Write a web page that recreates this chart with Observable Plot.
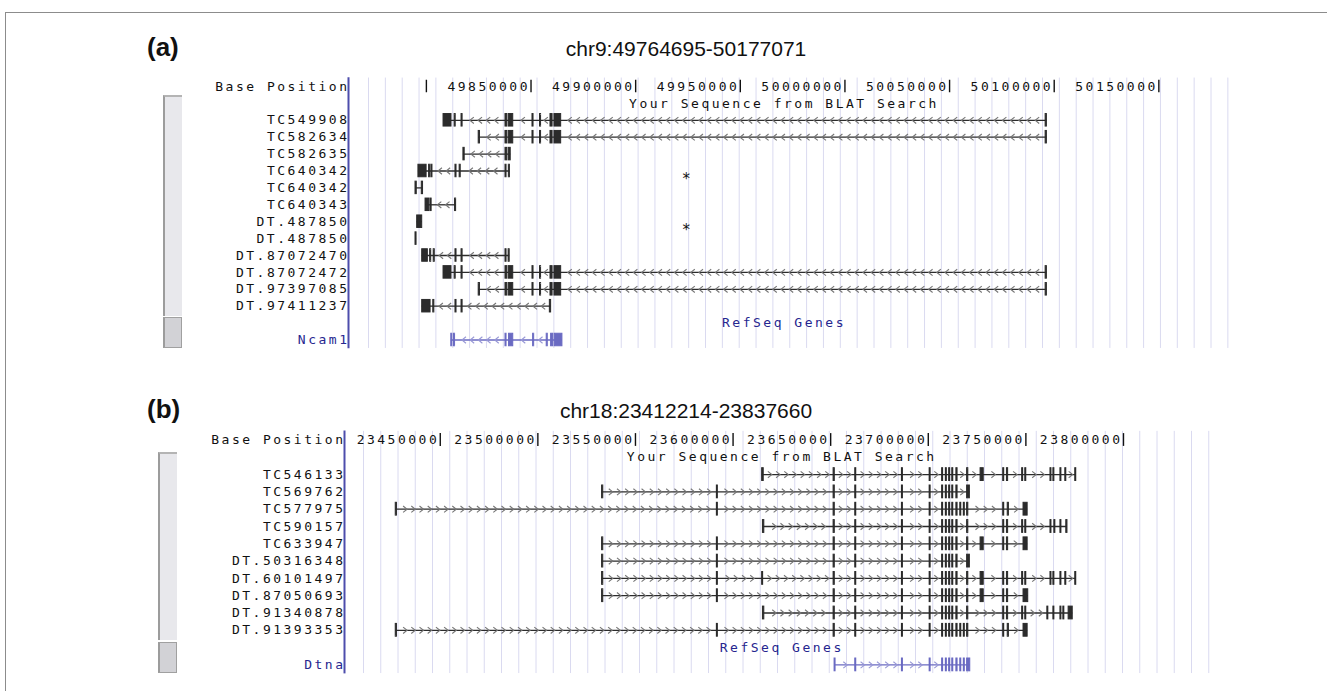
<!DOCTYPE html>
<html><head><meta charset="utf-8">
<script src="https://cdn.jsdelivr.net/npm/d3@7"></script>
<script src="https://cdn.jsdelivr.net/npm/@observablehq/plot@0.6"></script>
<style>
body{margin:0;background:#fff;}
#page{position:relative;width:1327px;height:691px;overflow:hidden;background:#fff;font-family:"Liberation Sans",Arial,sans-serif;}
.frame{position:absolute;left:5px;top:12px;width:1340px;height:700px;border:1px solid #8c8c8c;}
.plabel{position:absolute;font-weight:bold;font-size:26px;line-height:1;color:#111;}
.ptitle{position:absolute;font-size:21px;line-height:1;color:#111;transform:translateX(-50%);white-space:nowrap;}
.bar{position:absolute;background:#e8e8ec;border-left:2px solid #9c9c9c;border-top:2px solid #b4b4b4;box-sizing:border-box;}
.knob{position:absolute;background:#d2d2d6;border:1px solid #a0a0a0;border-left:2px solid #9c9c9c;box-sizing:border-box;}
.panel{position:absolute;left:0;}
.panel svg text{letter-spacing:2.5px;}
</style></head>
<body><div id="page">
<div class="frame"></div>
<div class="plabel" style="left:147px;top:34px;">(a)</div>
<div class="ptitle" id="titleA" style="left:686px;top:38px;"></div>
<div class="bar" style="left:163px;top:95px;width:19px;height:221px;"></div>
<div class="knob" style="left:163px;top:317px;width:19px;height:31px;"></div>
<div class="panel" id="panelA"></div>
<div class="plabel" style="left:147px;top:396px;">(b)</div>
<div class="ptitle" id="titleB" style="left:686px;top:400px;"></div>
<div class="bar" style="left:158px;top:452px;width:19px;height:188px;"></div>
<div class="knob" style="left:158px;top:642px;width:19px;height:31px;"></div>
<div class="panel" id="panelB"></div>
</div>
<script>
// ---------------- Panel (a) data ----------------
const regionA = "chr9:49764695-50177071";
const domainA = [49764695, 50177071];
const tickPosA = [49800000, 49850000, 49900000, 49950000, 50000000, 50050000, 50100000, 50150000];
const tickLabelA = ["", "49850000", "49900000", "49950000", "50000000", "50050000", "50100000", "50150000"];
const tracksA = ["TC549908", "TC582634", "TC582635", "TC640342", "TC640342", "TC640343",
  "DT.487850", "DT.487850", "DT.87072470", "DT.87072472", "DT.97397085", "DT.97411237"];
const exonsA = [
  [[49808200,49812000],[49813500,49814000],[49816800,49817300],[49837800,49838600],[49839300,49841500],[49850700,49851200],[49854300,49854800],[49859300,49860300],[49861200,49864400],[50095900,50096500]],
  [[49825000,49825600],[49837800,49838600],[49839300,49841500],[49850700,49851200],[49854300,49854800],[49859300,49860300],[49861200,49864400],[50095900,50096500]],
  [[49817700,49818300],[49837800,49838600],[49839300,49840300]],
  [[49796200,49800100],[49801300,49801800],[49802400,49802900],[49813900,49814400],[49815900,49816400],[49837800,49838300],[49839400,49839900]],
  [[49794800,49795400],[49797800,49798400]],
  [[49799600,49801300],[49801900,49802500],[49813700,49814200]],
  [[49795600,49798000]],
  [[49794800,49795300]],
  [[49798000,49800700],[49801800,49802300],[49803500,49804000],[49813900,49814400],[49816800,49817300],[49837800,49838300],[49839300,49839800]],
  [[49808200,49812000],[49813500,49814000],[49816800,49817300],[49837800,49838600],[49839300,49841500],[49850700,49851200],[49854300,49854800],[49859300,49860300],[49861200,49864400],[50095900,50096500]],
  [[49825000,49825600],[49837800,49838600],[49839300,49841500],[49850700,49851200],[49854300,49854800],[49859300,49860300],[49861200,49864400],[50095900,50096500]],
  [[49798000,49802000],[49803300,49803800],[49813900,49814400],[49816800,49817300],[49859000,49859600]]
];
const geneA = "Ncam1";
const geneExonsA = [[49811900,49812400],[49813200,49813700],[49837800,49838300],[49839500,49841500],[49851000,49851500],[49857500,49858000],[49859600,49860700],[49861400,49865000]];
const starPosA = [49924800, 49924800];
const starTrackA = [3.5, 6.5];   // between the two TC640342 rows and the two DT.487850 rows

// ---------------- Panel (b) data ----------------
const regionB = "chr18:23412214-23837660";
const domainB = [23412214, 23837660];
const tickPosB = [23450000, 23500000, 23550000, 23600000, 23650000, 23700000, 23750000, 23800000];
const tickLabelB = ["23450000", "23500000", "23550000", "23600000", "23650000", "23700000", "23750000", "23800000"];
const tracksB = ["TC546133", "TC569762", "TC577975", "TC590157", "TC633947",
  "DT.50316348", "DT.60101497", "DT.87050693", "DT.91340878", "DT.91393353"];
const exonsB = [
  [[23614900,23615700],[23651500,23652100],[23662600,23663100],[23686500,23687000],[23700700,23701200],[23707100,23707600],[23709000,23709500],[23710700,23711200],[23712300,23712800],[23714400,23715000],[23719900,23720500],[23726800,23728400],[23738400,23738900],[23740300,23740900],[23748100,23748600],[23749700,23750200],[23762600,23763100],[23764100,23764600],[23767700,23768200],[23770200,23770700],[23775300,23775800]],
  [[23532900,23533500],[23591700,23592200],[23651500,23652100],[23662600,23663100],[23686500,23687000],[23700700,23701200],[23707100,23707600],[23709000,23709500],[23710700,23711200],[23712300,23712800],[23714400,23715000],[23719900,23721300]],
  [[23427200,23427800],[23591700,23592200],[23651500,23652100],[23662600,23663100],[23686500,23687000],[23700700,23701200],[23707100,23707600],[23709000,23709500],[23710700,23711200],[23712300,23712800],[23714400,23715000],[23716400,23716900],[23718200,23718700],[23719900,23720500],[23738400,23738900],[23740700,23741300],[23748800,23750900]],
  [[23615300,23616000],[23651500,23652100],[23662600,23663100],[23686500,23687000],[23700700,23701200],[23707100,23707600],[23709000,23709500],[23710700,23711200],[23712300,23712800],[23714400,23715000],[23719900,23720500],[23738400,23738900],[23740300,23740900],[23748100,23748600],[23749700,23750200],[23762600,23763100],[23764600,23765100],[23767700,23768200],[23770700,23771300]],
  [[23532900,23533500],[23591700,23592200],[23651500,23652100],[23662600,23663100],[23686500,23687000],[23700700,23701200],[23707100,23707600],[23709000,23709500],[23710700,23711200],[23712300,23712800],[23714400,23715000],[23719900,23720500],[23726800,23728400],[23738400,23738900],[23740300,23740900],[23748800,23750900]],
  [[23532900,23533500],[23591700,23592200],[23651500,23652100],[23662600,23663100],[23686500,23687000],[23700700,23701200],[23707100,23707600],[23709000,23709500],[23710700,23711200],[23712300,23712800],[23714400,23715000],[23719900,23721300]],
  [[23532900,23533500],[23591700,23592200],[23614900,23615400],[23651500,23652100],[23662600,23663100],[23686500,23687000],[23700700,23701200],[23707100,23707600],[23709000,23709500],[23710700,23711200],[23712300,23712800],[23714400,23715000],[23719900,23720500],[23726800,23728400],[23738400,23738900],[23740300,23740900],[23748100,23748600],[23749700,23750200],[23762600,23763100],[23764100,23764600],[23767700,23768200],[23770200,23770700],[23775300,23775800]],
  [[23532900,23533500],[23591700,23592200],[23651500,23652100],[23662600,23663100],[23686500,23687000],[23700700,23701200],[23707100,23707600],[23709000,23709500],[23710700,23711200],[23712300,23712800],[23714400,23715000],[23719900,23720500],[23726800,23728400],[23738400,23738900],[23740300,23740900],[23748800,23751200]],
  [[23615300,23616000],[23651500,23652100],[23662600,23663100],[23686500,23687000],[23700700,23701200],[23707100,23707600],[23709000,23709500],[23710700,23711200],[23712300,23712800],[23714400,23715000],[23719900,23720500],[23738400,23738900],[23740300,23740900],[23748100,23748600],[23749700,23750200],[23761000,23761500],[23764100,23764600],[23767700,23768200],[23769200,23769700],[23771900,23774000]],
  [[23427200,23427800],[23591700,23592200],[23651500,23652100],[23662600,23663100],[23686500,23687000],[23700700,23701200],[23707100,23707600],[23709000,23709500],[23710700,23711200],[23712300,23712800],[23714400,23715000],[23716400,23716900],[23718200,23718700],[23719900,23720500],[23738400,23738900],[23740700,23741300],[23748800,23750900]]
];
const geneB = "Dtna";
const geneExonsB = [[23652000,23652500],[23662600,23663100],[23686500,23687000],[23700700,23701200],[23707100,23707600],[23709000,23709500],[23710700,23711200],[23712300,23712800],[23714400,23715000],[23716400,23716900],[23718200,23718700],[23719900,23721500]];
const starPosB = [];
const starTrackB = [];

// ---------------- drawing ----------------
const MONO = "'DejaVu Sans Mono', 'Liberation Mono', monospace";
const DARK = "#2b2b2b", CHEV = "#767676";
const BLUE = "#6a6ac2", BLUECHEV = "#9898d6", BLUETXT = "#26268f";
const chevL = {draw(ctx){ctx.moveTo(2.1,-3.2);ctx.lineTo(-1.9,0);ctx.lineTo(2.1,3.2);}};
const chevR = {draw(ctx){ctx.moveTo(-2.1,-3.2);ctx.lineTo(1.9,0);ctx.lineTo(-2.1,3.2);}};

function chevronsFor(exons, pxPerBp, step) {
  const out = [];
  for (let i = 0; i < exons.length - 1; i++) {
    const a = exons[i][1], b = exons[i + 1][0];
    const L = (b - a) * pxPerBp;
    if (L < 7) continue;
    const m = Math.max(1, Math.floor((L - 4) / step));
    const off = (L - (m - 1) * step) / 2;
    for (let k = 0; k < m; k++) out.push(a + (off + k * step) / pxPerBp);
  }
  return out;
}

function panel(cfg) {
  const n = cfg.tracks.length;
  const nRows = n + 4;
  const pxPerBp = (cfg.xRange[1] - cfg.xRange[0]) / (cfg.domain[1] - cfg.domain[0]);
  const toBp = px => cfg.domain[0] + (px - cfg.xRange[0]) / pxPerBp;
  const grid = d3.range(cfg.grid[0], cfg.grid[1] + 0.1, cfg.grid[2]).map(toBp);

  const labels = [{row: 0, text: "Base Position", fill: "#111"}]
    .concat(cfg.tracks.map((t, i) => ({row: i + 2, text: t, fill: "#111"})))
    .concat([{row: n + 3, text: cfg.gene, fill: BLUETXT}]);

  const items = cfg.exons.map((ex, i) => ({row: i + 2, exons: ex, color: DARK, chev: CHEV}))
    .concat([{row: n + 3, exons: cfg.geneExons, color: BLUE, chev: BLUECHEV}]);
  const introns = items.map(d => ({row: d.row, x1: d.exons[0][0], x2: d.exons[d.exons.length - 1][1], color: d.color}));
  const blocks = items.flatMap(d => d.exons.map(e => ({row: d.row, x1: e[0], x2: e[1], color: d.color})));
  const chevs = items.flatMap(d => chevronsFor(d.exons, pxPerBp, 8.2).map(x => ({row: d.row, x, color: d.chev})));
  const stars = cfg.starPos.map((p, i) => ({x: p, row: cfg.starTrack[i] + 2}));
  const center = (cfg.domain[0] + cfg.domain[1]) / 2;

  return Plot.plot({
    width: 1327, height: cfg.height, margin: 0,
    style: {background: "transparent", overflow: "visible"},
    x: {domain: cfg.domain, range: cfg.xRange, axis: null},
    y: {domain: [0, nRows - 1], range: [cfg.row0, cfg.row0 + (nRows - 1) * cfg.rowH], axis: null},
    marks: [
      Plot.ruleX(grid, {x: d => d, y1: -0.5, y2: nRows - 0.5, stroke: "#dadaf0", strokeWidth: 1}),
      Plot.ruleX([cfg.domain[0]], {x: d => d, dx: cfg.sepDx, y1: -0.52, y2: nRows - 0.48, stroke: "#4d4dac", strokeWidth: 2}),
      Plot.ruleX(cfg.tickPos, {x: d => d, y1: -0.37, y2: 0.37, stroke: "#111", strokeWidth: 1.4}),
      Plot.text(cfg.tickPos, {x: d => d, y: () => 0, text: (d, i) => cfg.tickLabel[i], textAnchor: "end", dx: -1, fontFamily: MONO, fontSize: 13, fill: "#111"}),
      Plot.text(labels, {x: () => cfg.domain[0], y: "row", text: "text", fill: "fill", textAnchor: "end", dx: cfg.labelDx, fontFamily: MONO, fontSize: 13}),
      Plot.text(["Your Sequence from BLAT Search"], {x: () => center, y: () => 1, text: d => d, fontFamily: MONO, fontSize: 13, fill: "#111"}),
      Plot.text(["RefSeq Genes"], {x: () => center, y: () => n + 2, text: d => d, fontFamily: MONO, fontSize: 13, fill: BLUETXT}),
      Plot.ruleY(introns, {x1: "x1", x2: "x2", y: "row", stroke: "color", strokeWidth: 1.3}),
      Plot.dot(chevs, {x: "x", y: "row", symbol: cfg.strand < 0 ? chevL : chevR, fill: "none", stroke: "color", strokeWidth: 1.1}),
      Plot.rect(blocks, {x1: "x1", x2: "x2", y1: d => d.row - 0.37, y2: d => d.row + 0.37, fill: "color", stroke: "color", strokeWidth: 1}),
      Plot.text(stars, {x: "x", y: "row", text: () => "*", fontFamily: MONO, fontSize: 15, fill: "#111"})
    ]
  });
}

document.getElementById("titleA").textContent = regionA;
document.getElementById("titleB").textContent = regionB;

const A = panel({domain: domainA, xRange: [352, 1215], height: 290, row0: 16, rowH: 16.9,
  sepDx: -4, labelDx: -3, grid: [368, 1230, 16.85], strand: -1,
  tracks: tracksA, exons: exonsA, gene: geneA, geneExons: geneExonsA,
  tickPos: tickPosA, tickLabel: tickLabelA, starPos: starPosA, starTrack: starTrackA});
const pa = document.getElementById("panelA"); pa.style.top = "70px"; pa.appendChild(A);

const B = panel({domain: domainB, xRange: [366, 1196.5], height: 255, row0: 14.5, rowH: 17.3,
  sepDx: -22, labelDx: -21, grid: [363, 1212, 17.25], strand: 1,
  tracks: tracksB, exons: exonsB, gene: geneB, geneExons: geneExonsB,
  tickPos: tickPosB, tickLabel: tickLabelB, starPos: starPosB, starTrack: starTrackB});
const pb = document.getElementById("panelB"); pb.style.top = "425px"; pb.appendChild(B);
</script>
</body></html>
